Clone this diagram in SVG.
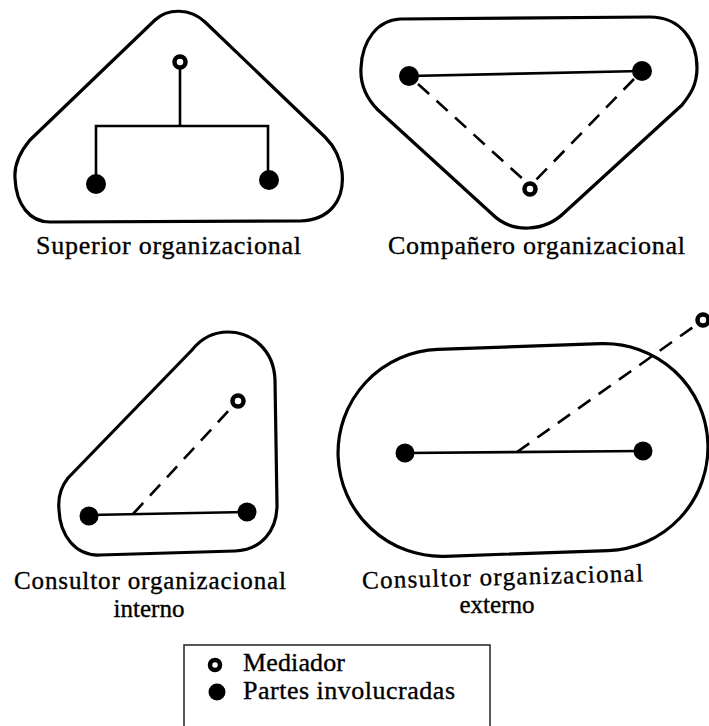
<svg xmlns="http://www.w3.org/2000/svg" width="709" height="726" viewBox="0 0 709 726">
<style>
.outline{fill:none;stroke:#000;stroke-width:3.2;stroke-linejoin:round}
.solid{fill:none;stroke:#000;stroke-width:2.6}
.dash{fill:none;stroke:#000;stroke-width:2.6;stroke-dasharray:15 10}
.party{fill:#000}
.med{fill:#fff;stroke:#000;stroke-width:4.5}
.lbl{font-family:"Liberation Serif","Times New Roman",serif;font-size:26px;fill:#000;stroke:#000;stroke-width:0.35}
.lbl2{font-size:25px}
</style>
<rect width="709" height="726" fill="#fff"/>

<g id="superior">
<path class="outline" d="M 50 222 L 300 221 C 330 220 345 200 342 172 C 340 155 333 145 325 137 L 205 22 C 190 8 168 8 155 20 L 30 140 C 20 152 14 165 15 178 C 16 205 30 222 50 222 Z"/>
<circle class="party" cx="96" cy="184" r="10"/>
<circle class="party" cx="269" cy="180" r="10"/>
<circle class="med" cx="180" cy="62" r="5.5"/>
<text class="lbl" x="36" y="254" textLength="265">Superior organizacional</text>
</g>

<g id="companero">
<path class="outline" d="M 400 19 L 650 17 C 680 17 697 40 697 68 C 697 85 690 95 682 105 L 565 212 C 545 232 512 234 492 214 L 378 110 C 366 98 360 85 361 68 C 362 40 378 20 400 19 Z"/>
<circle class="party" cx="409" cy="76" r="10"/>
<circle class="party" cx="642" cy="71" r="10"/>
<circle class="med" cx="530" cy="189" r="5.5"/>
<text class="lbl" x="388" y="254" textLength="297">Compañero organizacional</text>
</g>

<g id="interno">
<path class="outline" d="M 100 555 L 235 551 C 262 550 277 530 277 505 L 275 380 C 274 350 252 332 228 332 C 212 332 200 340 192 350 L 68 478 C 60 488 58 500 59 510 C 60 535 75 556 100 555 Z"/>
<circle class="party" cx="89" cy="516" r="9.5"/>
<circle class="party" cx="247" cy="512" r="9.5"/>
<circle class="med" cx="238" cy="401" r="5.5"/>
<text class="lbl lbl2" x="14" y="589" textLength="272">Consultor organizacional</text>
<text class="lbl lbl2" x="149" y="617" text-anchor="middle">interno</text>
</g>

<g id="externo">
<rect class="outline" x="338" y="346.5" width="370" height="207" rx="103.5" transform="rotate(-2 523 450)"/>
<circle class="party" cx="405" cy="453" r="9.5"/>
<circle class="party" cx="643" cy="451" r="9.5"/>
<circle class="med" cx="703" cy="320" r="5.5"/>
<text class="lbl lbl2" x="362" y="585" textLength="281" transform="rotate(-1.5 502 578)">Consultor organizacional</text>
<text class="lbl lbl2" x="497" y="613" text-anchor="middle">externo</text>
</g>

<g id="connectors">
<polyline class="solid" points="180,68 180,126"/>
<polyline class="solid" points="96,184 96,126 268,126 268,180"/>
<line class="solid" x1="409" y1="76" x2="642" y2="71"/>
<line class="dash" x1="418" y1="84" x2="525" y2="181"/>
<line class="dash" x1="634" y1="79" x2="535" y2="181"/>
<line class="solid" x1="89" y1="515" x2="247" y2="512"/>
<line class="dash" x1="133" y1="514" x2="232" y2="407"/>
<line class="solid" x1="405" y1="453" x2="643" y2="451"/>
<line class="dash" x1="517" y1="452" x2="696" y2="325"/>
</g>

<g id="legend">
<rect x="184" y="645" width="306" height="90" fill="none" stroke="#222" stroke-width="1.5"/>
<circle class="med" cx="215" cy="665" r="5"/>
<circle class="party" cx="217" cy="692" r="8.5"/>
<text class="lbl" x="243" y="671" textLength="102">Mediador</text>
<text class="lbl" x="243" y="699" textLength="212">Partes involucradas</text>
</g>
</svg>
